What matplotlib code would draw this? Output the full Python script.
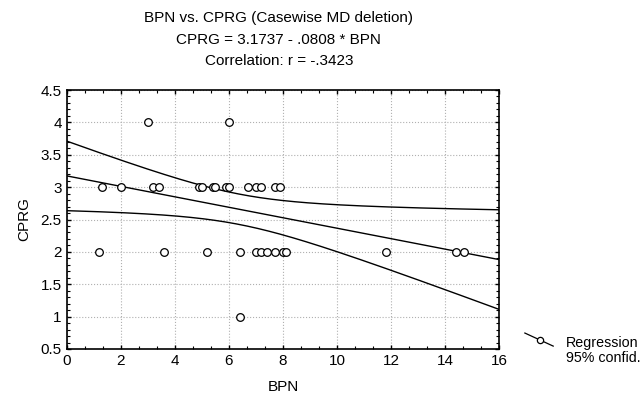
import numpy as np
import matplotlib
matplotlib.use('Agg')
import matplotlib.pyplot as plt
import matplotlib.ticker as ticker
from matplotlib.lines import Line2D

plt.rcParams['font.family'] = ['Liberation Sans', 'DejaVu Sans']

# data
bpn_3 = [1.3, 2.0, 3.2, 3.4, 4.9, 5.0, 5.4, 5.5, 5.9, 6.0, 6.7, 7.0, 7.2, 7.7, 7.9]
bpn_2 = [1.2, 3.6, 5.2, 6.4, 7.0, 7.2, 7.4, 7.7, 8.0, 8.1, 11.8, 14.4, 14.7]
bpn_4 = [3.0, 6.0]
bpn_1 = [6.4]

intercept = 3.1737
slope = -0.0808
t_crit = 2.045  # t(0.975, 29)

bpn = np.array(bpn_3 + bpn_2 + bpn_4 + bpn_1)
cprg = np.array([3] * len(bpn_3) + [2] * len(bpn_2) + [4] * len(bpn_4) + [1] * len(bpn_1))

n = len(bpn)
resid = cprg - (intercept + slope * bpn)
s = np.sqrt(np.sum(resid ** 2) / (n - 2))
xbar = bpn.mean()
sxx = np.sum((bpn - xbar) ** 2)

xs = np.linspace(0, 16, 200)
yfit = intercept + slope * xs
se = s * np.sqrt(1.0 / n + (xs - xbar) ** 2 / sxx)

fig = plt.figure(figsize=(6.44, 3.96), dpi=100)
ax = fig.add_axes([0.1036, 0.1187, 0.6714, 0.654])

ax.plot(bpn, cprg, 'o', mfc='white', mec='black', ms=5.5, mew=0.9, zorder=3)
ax.plot(xs, yfit, color='black', lw=1)
ax.plot(xs, yfit + t_crit * se, color='black', lw=1)
ax.plot(xs, yfit - t_crit * se, color='black', lw=1)

ax.set_xlim(0, 16)
ax.set_ylim(0.5, 4.5)
ax.xaxis.set_major_locator(ticker.MultipleLocator(2))
ax.yaxis.set_major_locator(ticker.MultipleLocator(0.5))
ax.xaxis.set_minor_locator(ticker.AutoMinorLocator(3))
ax.yaxis.set_minor_locator(ticker.AutoMinorLocator(5))
ax.xaxis.set_major_formatter(ticker.FuncFormatter(lambda v, p: '%g' % v))
ax.yaxis.set_major_formatter(ticker.FuncFormatter(lambda v, p: '%g' % v))
ax.tick_params(which='both', direction='in', top=True, right=True, labelsize=11)
ax.tick_params(which='major', length=3, width=1)
ax.tick_params(which='minor', length=2, width=0.8)
ax.grid(True, which='major', color='#b0b0b0', linestyle=':', linewidth=0.8)
for sp in ax.spines.values():
    sp.set_linewidth(1.2)

ax.set_xlabel('BPN', fontsize=11, labelpad=9)
ax.set_ylabel('CPRG', fontsize=11, labelpad=7)

fig.text(0.433, 0.955, 'BPN vs. CPRG (Casewise MD deletion)', ha='center', va='center', fontsize=11)
fig.text(0.433, 0.9, 'CPRG = 3.1737 - .0808 * BPN', ha='center', va='center', fontsize=11)
fig.text(0.433, 0.845, 'Correlation: r = -.3423', ha='center', va='center', fontsize=11)

# legend symbol
fig.add_artist(Line2D([0.815, 0.859], [0.159, 0.126], transform=fig.transFigure, color='black', lw=0.9))
fig.add_artist(Line2D([0.8385], [0.1414], transform=fig.transFigure, marker='o', mfc='white',
                      mec='black', ms=4.5, mew=0.9, lw=0))
fig.text(0.879, 0.115, 'Regression\n95% confid.', ha='left', va='center', fontsize=10.3, linespacing=1.05)

fig.savefig('out.png', dpi=100)
